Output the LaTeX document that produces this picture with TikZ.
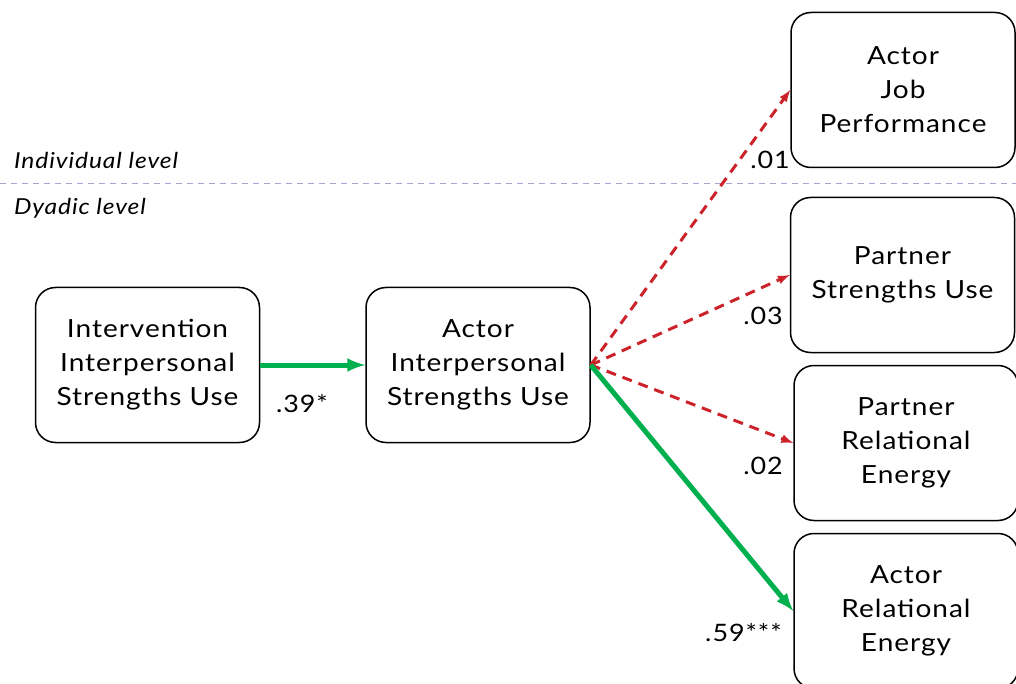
\documentclass[tikz,border=0pt]{standalone}
\usepackage{fontspec}
\setmainfont{Lato}[FakeStretch=1.12,LetterSpace=4]
\tikzset{>=latex}
\definecolor{sigGreen}{HTML}{00B04F}
\definecolor{nsRed}{HTML}{CC2229}
\definecolor{levelLine}{HTML}{A6A6CC}

\begin{document}
\begin{tikzpicture}[x=1pt,y=-1pt,
    box/.style={draw,line width=1.5pt,rounded corners=20pt,
      minimum width=224pt,minimum height=155pt,align=center,
      font=\fontsize{25}{34}\selectfont},
    coef/.style={font=\fontsize{24}{28}\selectfont,inner sep=0pt},
    level/.style={font=\fontsize{22}{26}\selectfont\itshape,anchor=west,inner sep=0pt},
    sig/.style={->,sigGreen,line width=5pt},
    ns/.style={->,nsRed,line width=3pt,dash pattern=on 10pt off 7pt}]
  \useasboundingbox (0,0) rectangle (1016,684);
  % levels
  \draw[levelLine,line width=1pt,dash pattern=on 6pt off 5pt] (0,184) -- (1016,184);
  \node[level] (ind) at (14,160) {Individual level};
  \node[level] (dya) at (14,208) {Dyadic level};
  % boxes
  \node[box] (int) at (147.5,365) {Intervention\\Interpersonal\\Strengths Use};
  \node[box] (act) at (478,365) {Actor\\Interpersonal\\Strengths Use};
  \node[box] (job) at (903,90)  {Actor\\Job\\Performance};
  \node[box] (pstr) at (902.5,275) {Partner\\Strengths Use};
  \node[box] (pre) at (906,443) {Partner\\Relational\\Energy};
  \node[box] (are) at (906,611) {Actor\\Relational\\Energy};
  % paths
  \draw[sig] (int) -- (act);
  \draw[ns] (act.east) -- (job.west);
  \draw[ns] (act.east) -- (pstr.west);
  \draw[ns] (act.east) -- (pre.west);
  \draw[sig] (act.east) -- (are.west);
  % estimates
  \node[coef] (c1) at (302,404) {.39*};
  \node[coef,anchor=east] (c2) at (790,160) {.01};
  \node[coef,anchor=east] (c3) at (783,316) {.03};
  \node[coef,anchor=east] (c4) at (783,466) {.02};
  \node[coef,anchor=east] (c5) at (782,633) {.59***};
\end{tikzpicture}
\end{document}
